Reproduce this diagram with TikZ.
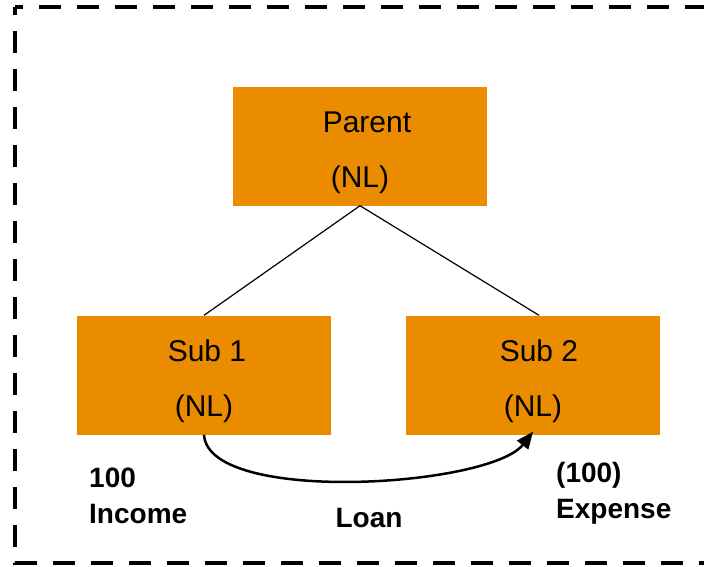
\documentclass[tikz,border=0pt]{standalone}
\usepackage{fontspec}
\setmainfont{Liberation Sans}
\usetikzlibrary{arrows.meta}
\definecolor{boxorange}{RGB}{234,139,0}

\begin{document}
\begin{tikzpicture}[x=1pt,y=-1pt,
    entity/.style={fill=boxorange, minimum width=254pt, minimum height=119pt,
        align=center, inner sep=0pt, text height=90pt, font=\fontsize{30}{55}\selectfont},
    note/.style={align=left, inner sep=0pt, font=\fontsize{28}{36}\selectfont\bfseries},
    border/.style={line width=4.5pt, dash pattern=on 22pt off 16pt, dash phase=14pt}]
    \useasboundingbox (0,0) rectangle (704,566);
    \clip (0,0) rectangle (704,566);

    % Frame
    \draw[border] (15,7) -- (730,7);
    \draw[border] (15,7) -- (15,563) -- (730,563);

    % Entities
    \node[entity] (parent) at (360,146) {\hspace*{14pt}Parent\\(NL)};
    \node[entity] (sub1) at (204,375) {\hspace*{6pt}Sub 1\\(NL)};
    \node[entity] (sub2) at (533,375) {\hspace*{12pt}Sub 2\\(NL)};

    % Ownership lines
    \draw[line width=1.2pt] (parent.south) -- (sub1.north);
    \draw[line width=1.2pt] (parent.south) -- ([xshift=6pt]sub2.north);

    % Loan
    \draw[line width=2.5pt, -{Triangle[length=17pt,width=14pt]}]
        (sub1.south) .. controls (208,505) and (490,487) .. ([yshift=3pt]sub2.south);

    % Amounts
    \node[note, anchor=west] (income) at (89,496) {100\\Income};
    \node[note] (loan) at (369,518) {Loan};
    \node[note, anchor=west] (expense) at (556,493) {(100)\\Expense};
\end{tikzpicture}
\end{document}
